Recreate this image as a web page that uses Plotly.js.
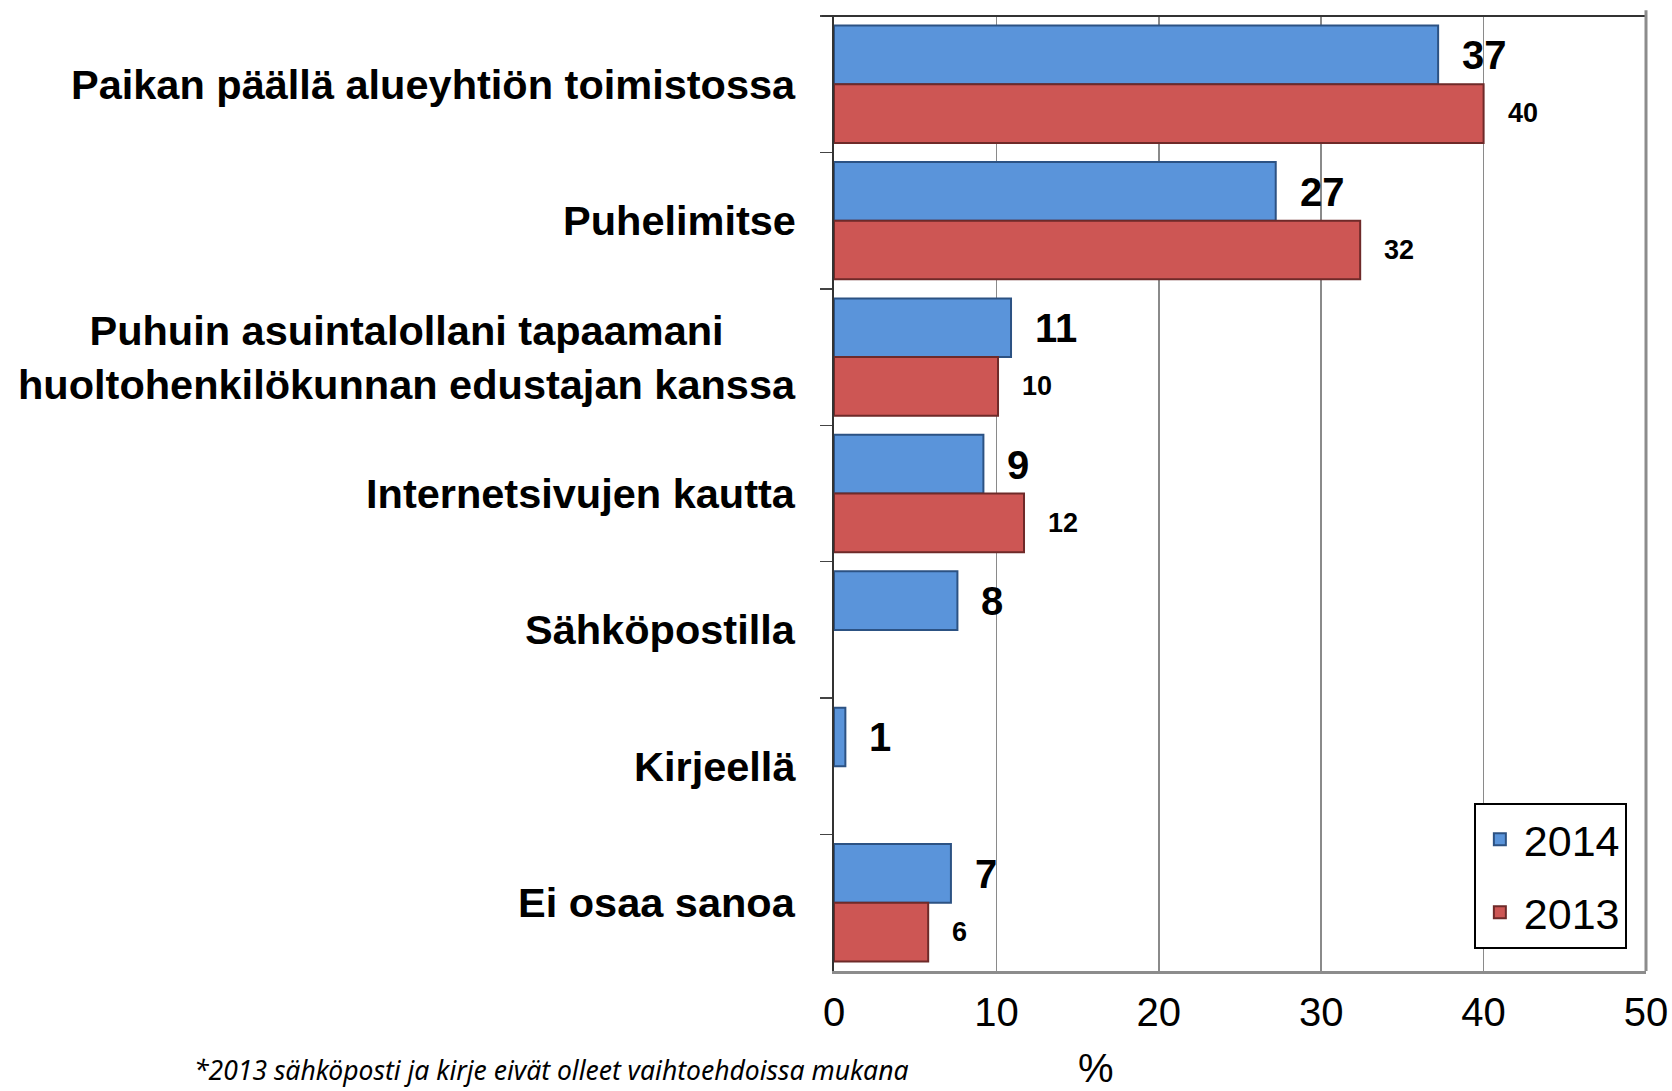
<!DOCTYPE html>
<html>
<head>
<meta charset="utf-8">
<script src="https://cdn.plot.ly/plotly-3.0.1.min.js"></script>
<style>
  html, body { margin: 0; padding: 0; background: #ffffff; }
  #chart { width: 1672px; height: 1091px; }
</style>
</head>
<body>
<div id="chart"></div>
<script>
// ---- data ----
const categories = [
  "Paikan päällä alueyhtiön toimistossa",
  "Puhelimitse",
  "Puhuin asuintalollani tapaamani<br>huoltohenkilökunnan edustajan kanssa",
  "Internetsivujen kautta",
  "Sähköpostilla",
  "Kirjeellä",
  "Ei osaa sanoa"
];
const values2014 = [37.2, 27.2, 10.9, 9.2, 7.6, 0.7, 7.2];
const values2013 = [40.0, 32.4, 10.1, 11.7, null, null, 5.8];
const labels2014 = ["37", "27", "11", "9", "8", "1", "7"];
const labels2013 = ["40", "32", "10", "12", "", "", "6"];
const xTicks = [0, 10, 20, 30, 40, 50];
const footnote = "*2013 sähköposti ja kirje eivät olleet vaihtoehdoissa mukana";
const axisTitle = "%";

// ---- styling ----
const blue = "#5A94DA", blueEdge = "#2C5283";
const red = "#CD5654", redEdge = "#6E2A29";
const sans = "'Liberation Sans', Arial, sans-serif";

const traces = [
  {
    type: "bar", orientation: "h", name: "2014", legendgroup: "a",
    y: categories, x: values2014,
    marker: { color: blue, line: { color: blueEdge, width: 2 } },
    hoverinfo: "x+name"
  },
  {
    type: "bar", orientation: "h", name: "2013", legendgroup: "b",
    y: categories, x: values2013,
    marker: { color: red, line: { color: redEdge, width: 2 } },
    hoverinfo: "x+name"
  }
];

const annotations = [];
// category labels, centred lines, right edge near the axis
categories.forEach(function (c) {
  annotations.push({
    xref: "paper", yref: "y", x: 0, y: c, xshift: -36,
    xanchor: "right", yanchor: "middle", align: "center",
    text: c, showarrow: false,
    font: { family: sans, size: 41.5, color: "#000000", weight: "bold" }
  });
});
// value labels
categories.forEach(function (c, i) {
  if (values2014[i] !== null) {
    annotations.push({
      xref: "x", yref: "y", x: values2014[i], y: c, xshift: 22, yshift: 29,
      xanchor: "left", yanchor: "middle", text: "<b>" + labels2014[i] + "</b>",
      showarrow: false, font: { family: sans, size: 40, color: "#000" }
    });
  }
  if (values2013[i] !== null) {
    annotations.push({
      xref: "x", yref: "y", x: values2013[i], y: c, xshift: 22, yshift: -29,
      xanchor: "left", yanchor: "middle", text: "<b>" + labels2013[i] + "</b>",
      showarrow: false, font: { family: sans, size: 27, color: "#000" }
    });
  }
});
// axis title "%"
annotations.push({
  xref: "paper", yref: "paper", x: 0.3227, y: -0.1015,
  xanchor: "center", yanchor: "middle", text: axisTitle, showarrow: false,
  font: { family: sans, size: 40, color: "#000" }
});
// footnote
annotations.push({
  xref: "paper", yref: "paper", x: -0.7906, y: -0.1246,
  xanchor: "left", yanchor: "bottom", text: "<i>" + footnote + "</i>", showarrow: false,
  font: { family: "'Noto Sans', " + sans, size: 26.5, color: "#000" }
});

const layout = {
  width: 1672, height: 1091,
  margin: { l: 834, r: 26, t: 16, b: 120, pad: 0 },
  paper_bgcolor: "#ffffff", plot_bgcolor: "#ffffff",
  barmode: "group", bargap: 0.14, bargroupgap: 0,
  showlegend: true,
  legend: {
    x: 0.788, y: 0.176, xanchor: "left", yanchor: "top",
    bordercolor: "#000000", borderwidth: 2, bgcolor: "#ffffff",
    font: { family: sans, size: 43, color: "#000" },
    traceorder: "grouped", tracegroupgap: 14,
    itemwidth: 38
  },
  xaxis: {
    range: [0, 50], tickvals: xTicks, ticktext: xTicks.map(String),
    showgrid: true, gridcolor: "#8A8A8A", gridwidth: 1.5,
    showline: true, linecolor: "#8C8C8C", linewidth: 3,
    zeroline: false, ticks: "", ticklabelstandoff: 4,
    tickfont: { family: sans, size: 40, color: "#000" },
    fixedrange: true
  },
  yaxis: {
    type: "category", autorange: "reversed",
    showticklabels: false, showgrid: false, zeroline: false,
    showline: true, linecolor: "#333333", linewidth: 2,
    ticks: "outside", tickson: "boundaries", ticklen: 12,
    tickcolor: "#444444", tickwidth: 1.5,
    fixedrange: true
  },
  shapes: [
    { type: "line", xref: "paper", yref: "paper", x0: -0.015, x1: 1, y0: 1, y1: 1,
      line: { color: "#333333", width: 2 } },
    { type: "line", xref: "paper", yref: "paper", x0: 1, x1: 1, y0: 0, y1: 1.006,
      line: { color: "#8C8C8C", width: 3 } }
  ],
  annotations: annotations
};

Plotly.newPlot("chart", traces, layout, { staticPlot: true, displayModeBar: false });
</script>
</body>
</html>
